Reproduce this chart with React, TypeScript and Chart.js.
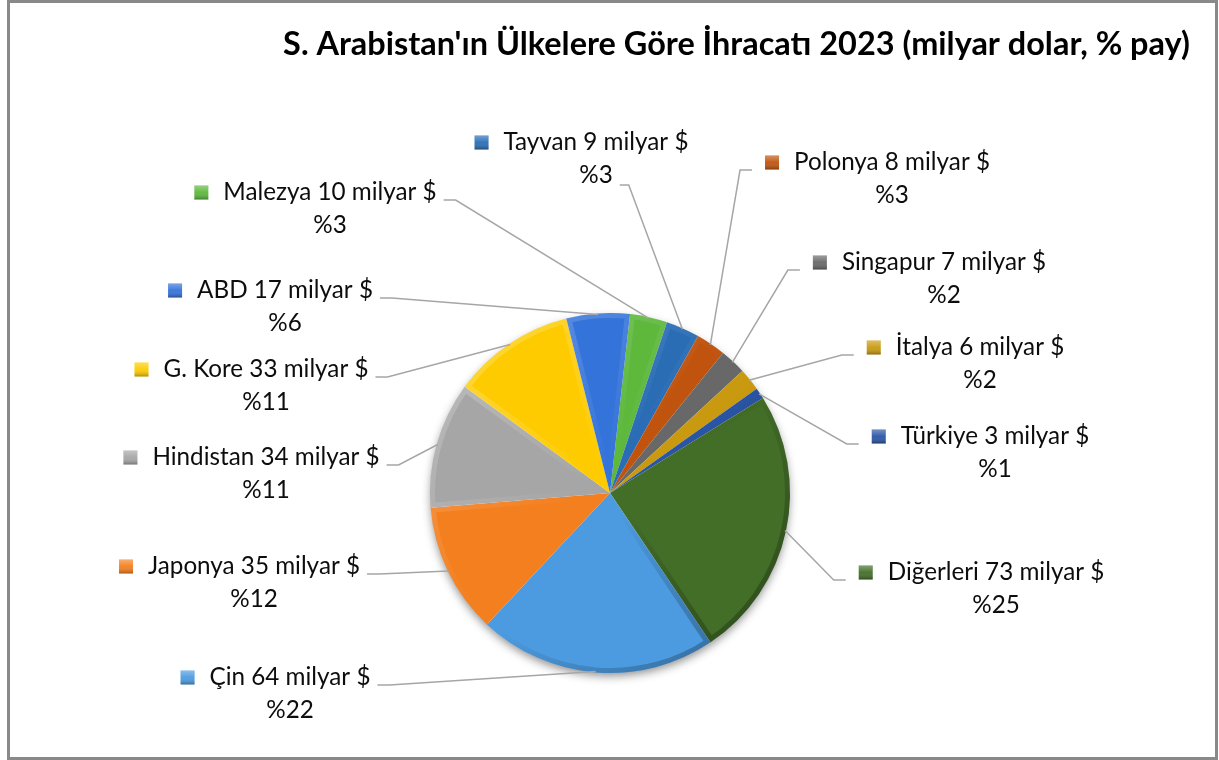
import { useEffect, useRef } from "react";
import { Chart, registerables } from "chart.js";

Chart.register(...registerables);

const titleText = "S. Arabistan'ın Ülkelere Göre İhracatı 2023 (milyar dolar, % pay)";

const categories = [
  "Malezya", "Tayvan", "Polonya", "Singapur", "İtalya", "Türkiye",
  "Diğerleri", "Çin", "Japonya", "Hindistan", "G. Kore", "ABD",
];
const exportValues = [10, 9, 8, 7, 6, 3, 73, 64, 35, 34, 33, 17];
const sharePercents = [3, 3, 3, 2, 2, 1, 25, 22, 12, 11, 11, 6];
const valueUnit = "milyar $";

const sliceColors = [
  "#5DB83C", "#2A6DB5", "#C0540F", "#686868", "#C99A10", "#2A55A5",
  "#436E28", "#4C9BE0", "#F47F1F", "#A6A6A6", "#FECB00", "#3473D9",
];

// label placement: text centre x, baseline of first line, side where leader attaches
const labelLayout = [
  { cx: 330, base: 200, side: "right" },
  { cx: 596, base: 150, side: "line2" },
  { cx: 892, base: 170, side: "left" },
  { cx: 944, base: 270, side: "left" },
  { cx: 980, base: 355, side: "left" },
  { cx: 995, base: 444, side: "left" },
  { cx: 996, base: 580, side: "left" },
  { cx: 290, base: 685, side: "right" },
  { cx: 254, base: 574, side: "right" },
  { cx: 266, base: 465, side: "right" },
  { cx: 266, base: 377, side: "right" },
  { cx: 285, base: 298, side: "right" },
];

export default function App() {
  const ref = useRef<HTMLCanvasElement>(null);

  useEffect(() => {
    const canvas = ref.current!;
    const fontFamily = "Lato, 'Open Sans', sans-serif";
    const c0 = canvas.getContext("2d")!;
    c0.font = `100px ${fontFamily}`;
    const labelSize = (100 * 185) / c0.measureText("Tayvan 9 milyar $").width;
    c0.font = `bold 100px ${fontFamily}`;
    const titleSize = (100 * 907) / c0.measureText(titleText).width;

    const overlay = {
      id: "overlay",
      beforeDatasetsDraw(chart: any) {
        const ctx = chart.ctx;
        const arc = chart.getDatasetMeta(0).data[0];
        if (!arc) return;
        const { x, y, outerRadius } = arc.getProps(["x", "y", "outerRadius"], true);
        ctx.save();
        ctx.beginPath();
        ctx.arc(x, y, outerRadius - 1, 0, Math.PI * 2);
        ctx.fillStyle = "#ffffff";
        ctx.shadowColor = "rgba(0,0,0,0.45)";
        ctx.shadowBlur = 10;
        ctx.shadowOffsetY = 4;
        ctx.fill();
        ctx.restore();
      },
      afterDatasetsDraw(chart: any) {
        const ctx = chart.ctx;
        chart.getDatasetMeta(0).data.forEach((arc: any) => {
          const { x, y, startAngle, endAngle, outerRadius } = arc.getProps(
            ["x", "y", "startAngle", "endAngle", "outerRadius"], true);
          ctx.save();
          ctx.beginPath();
          ctx.moveTo(x, y);
          ctx.arc(x, y, outerRadius, startAngle, endAngle);
          ctx.closePath();
          ctx.clip();
          const k = outerRadius * 0.75;
          const g = ctx.createLinearGradient(x - k, y - k, x + k, y + k);
          g.addColorStop(0, "rgba(255,255,255,0.2)");
          g.addColorStop(0.45, "rgba(255,255,255,0.0)");
          g.addColorStop(0.55, "rgba(0,0,0,0.0)");
          g.addColorStop(1, "rgba(0,0,0,0.28)");
          ctx.strokeStyle = g;
          ctx.lineWidth = 10;
          ctx.lineJoin = "round";
          ctx.stroke();
          ctx.restore();
        });
      },
      afterDraw(chart: any) {
        const ctx = chart.ctx;
        const meta = chart.getDatasetMeta(0);
        ctx.save();
        // title
        ctx.font = `bold ${titleSize}px ${fontFamily}`;
        ctx.fillStyle = "#000";
        ctx.textAlign = "center";
        ctx.textBaseline = "alphabetic";
        ctx.fillText(titleText, 736.5, 55);

        ctx.font = `${labelSize}px ${fontFamily}`;
        const markerSize = 14;
        const markerGap = 15;
        meta.data.forEach((arc: any, i: number) => {
          const lay = labelLayout[i];
          const line1 = `${categories[i]} ${exportValues[i]} ${valueUnit}`;
          const line2 = `%${sharePercents[i]}`;
          const w1 = ctx.measureText(line1).width;
          const w2 = ctx.measureText(line2).width;
          const t0 = lay.cx - w1 / 2;
          const t1 = lay.cx + w1 / 2;
          const mx = t0 - markerGap - markerSize;
          const my = lay.base - 7.5 - markerSize / 2;
          const base2 = lay.base + 33;

          // leader line
          const { x, y, startAngle, endAngle, outerRadius } = arc.getProps(
            ["x", "y", "startAngle", "endAngle", "outerRadius"], true);
          const mid = (startAngle + endAngle) / 2;
          const ex = x + Math.cos(mid) * (outerRadius - 1);
          const ey = y + Math.sin(mid) * (outerRadius - 1);
          let ax: number, ay: number, bx: number;
          if (lay.side === "left") {
            ax = mx - 13; ay = lay.base; bx = ax - 12;
          } else if (lay.side === "right") {
            ax = t1 + 7; ay = lay.base; bx = ax + 12;
          } else {
            ax = lay.cx + w2 / 2 + 7; ay = base2 + 2; bx = ax + 9;
          }
          ctx.beginPath();
          ctx.moveTo(ax, ay);
          ctx.lineTo(bx, ay);
          ctx.lineTo(ex, ey);
          ctx.strokeStyle = "#A6A6A6";
          ctx.lineWidth = 1.5;
          ctx.stroke();

          // marker
          ctx.fillStyle = sliceColors[i];
          ctx.fillRect(mx, my, markerSize, markerSize);
          const mg = ctx.createLinearGradient(0, my, 0, my + markerSize);
          mg.addColorStop(0, "rgba(255,255,255,0.35)");
          mg.addColorStop(0.5, "rgba(255,255,255,0.05)");
          mg.addColorStop(1, "rgba(0,0,0,0.3)");
          ctx.fillStyle = mg;
          ctx.fillRect(mx, my, markerSize, markerSize);

          // text
          ctx.fillStyle = "#0d0d0d";
          ctx.textAlign = "center";
          ctx.fillText(line1, lay.cx, lay.base);
          ctx.fillText(line2, lay.cx, base2);
        });

        // frame
        ctx.strokeStyle = "#898989";
        ctx.lineWidth = 3;
        ctx.strokeRect(8.5, 1.5, 1208, 757);
        ctx.restore();
      },
    };

    const chart = new Chart(canvas, {
      type: "pie",
      data: {
        labels: categories,
        datasets: [{ data: exportValues, backgroundColor: sliceColors, borderWidth: 0 }],
      },
      options: {
        responsive: false,
        animation: false,
        rotation: 6.4,
        layout: { padding: { left: 430, right: 429, top: 313, bottom: 87 } },
        plugins: { legend: { display: false }, tooltip: { enabled: false }, title: { display: false } },
      },
      plugins: [overlay],
    });
    return () => chart.destroy();
  }, []);

  return (
    <div style={{ position: "fixed", left: 0, top: 0, width: 1219, height: 760, background: "#fff" }}>
      <canvas ref={ref} width={1219} height={760} style={{ display: "block" }} />
    </div>
  );
}
